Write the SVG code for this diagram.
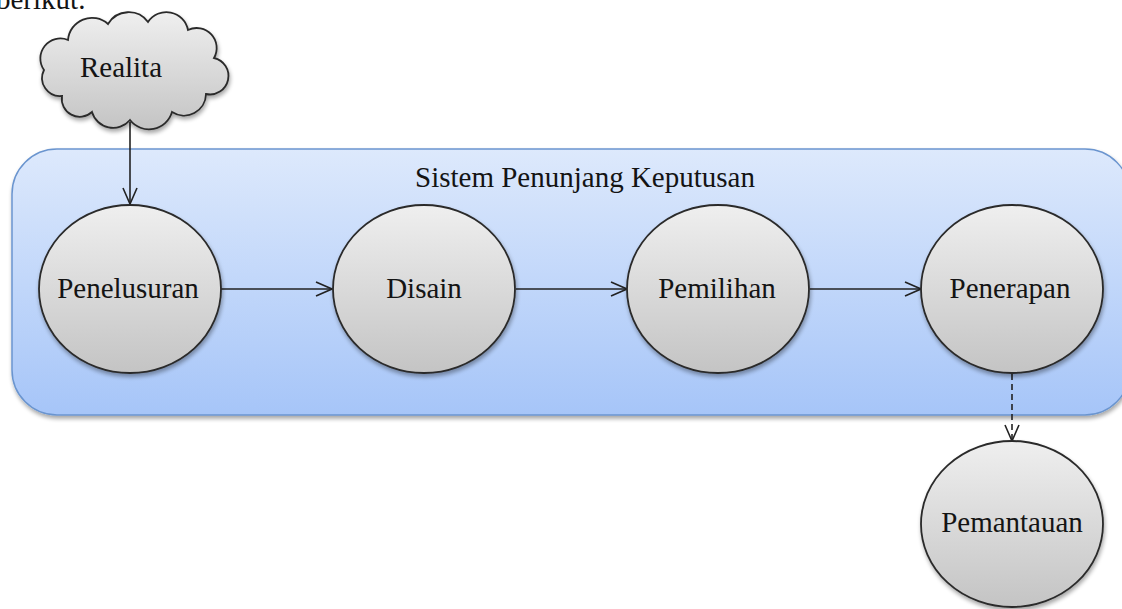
<svg xmlns="http://www.w3.org/2000/svg" width="1122" height="609" viewBox="0 0 1122 609">
<defs>
<linearGradient id="gBox" x1="0" y1="0" x2="0" y2="1">
<stop offset="0" stop-color="#dde9fc"/>
<stop offset="1" stop-color="#a6c5f8"/>
</linearGradient>
<linearGradient id="gNode" x1="0" y1="0" x2="0" y2="1">
<stop offset="0" stop-color="#efefef"/>
<stop offset="1" stop-color="#c4c4c4"/>
</linearGradient>
<filter id="sh" x="-10%" y="-10%" width="130%" height="130%">
<feGaussianBlur in="SourceAlpha" stdDeviation="2"/>
<feOffset dx="1" dy="3" result="b"/>
<feComponentTransfer><feFuncA type="linear" slope="0.35"/></feComponentTransfer>
<feMerge><feMergeNode/><feMergeNode in="SourceGraphic"/></feMerge>
</filter>
<marker id="arr" viewBox="0 0 20 20" refX="19" refY="10" markerWidth="20" markerHeight="20" markerUnits="userSpaceOnUse" orient="auto">
<path d="M3,3 L19,10 L3,17" fill="none" stroke="#222" stroke-width="1.6"/>
</marker>
</defs>
<style>
text{font-family:'Liberation Serif','Times New Roman',serif;font-size:29px;fill:#141414}
.t{text-anchor:middle}
.node{fill:url(#gNode);stroke:#2a2a2a;stroke-width:1.8}
.c{stroke:#222;stroke-width:1.6;fill:none}
</style>
<g font-family="Liberation Serif, Times New Roman, serif" font-size="29">
<text x="-4" y="9">berikut.</text>
<g id="box">
<rect x="12" y="149" width="1118" height="266" rx="45" ry="45" fill="url(#gBox)" stroke="#6b95cf" stroke-width="1.5" filter="url(#sh)"/>
<text class="t" x="585" y="187">Sistem Penunjang Keputusan</text>
</g>
<g id="connectors">
<line class="c" x1="130" y1="122" x2="130" y2="204" marker-end="url(#arr)"/>
<line class="c" x1="221" y1="289" x2="332" y2="289" marker-end="url(#arr)"/>
<line class="c" x1="516" y1="289" x2="627" y2="289" marker-end="url(#arr)"/>
<line class="c" x1="810" y1="289" x2="921" y2="289" marker-end="url(#arr)"/>
<line class="c" x1="1012" y1="374" x2="1012" y2="441" stroke-dasharray="6,4" marker-end="url(#arr)"/>
</g>
<g id="realita">
<path class="node" filter="url(#sh)" d="M62,96 A18 18 0 0 1 44 70 A20 20 0 0 1 68 40 A24 24 0 0 1 108 24 A24 24 0 0 1 148 22 A22 22 0 0 1 188 30 A20 20 0 0 1 214 58 A18 18 0 0 1 206 94 A22 22 0 0 1 172 112 A24 24 0 0 1 130 120 A22 22 0 0 1 92 112 A18 18 0 0 1 62 96 Z"/>
<text class="t" x="121" y="77">Realita</text>
</g>
<g id="penelusuran">
<ellipse class="node" filter="url(#sh)" cx="130" cy="289" rx="91" ry="84"/>
<text class="t" x="128" y="298">Penelusuran</text>
</g>
<g id="disain">
<ellipse class="node" filter="url(#sh)" cx="424" cy="289" rx="91" ry="84"/>
<text class="t" x="424" y="298">Disain</text>
</g>
<g id="pemilihan">
<ellipse class="node" filter="url(#sh)" cx="718" cy="289" rx="91" ry="84"/>
<text class="t" x="717" y="298">Pemilihan</text>
</g>
<g id="penerapan">
<ellipse class="node" filter="url(#sh)" cx="1012" cy="289" rx="91" ry="84"/>
<text class="t" x="1010" y="298">Penerapan</text>
</g>
<g id="pemantauan">
<ellipse class="node" filter="url(#sh)" cx="1012" cy="524" rx="91" ry="83"/>
<text class="t" x="1012" y="532">Pemantauan</text>
</g>
</g>
</svg>
